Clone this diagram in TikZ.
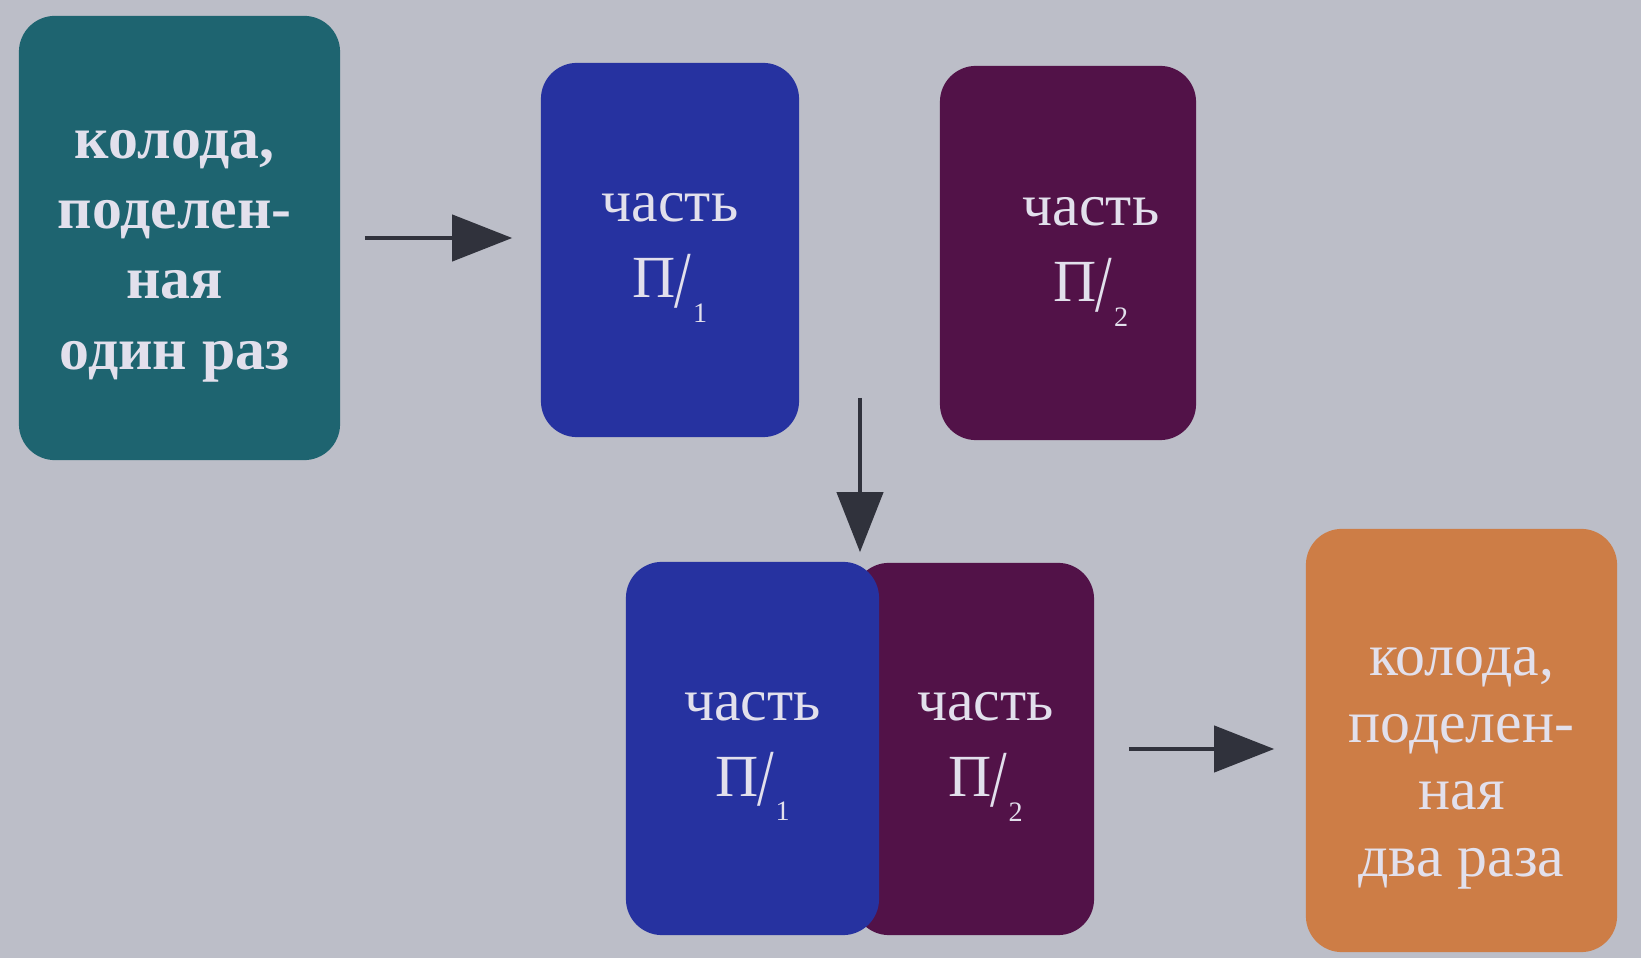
\documentclass[tikz,border=0pt]{standalone}
\usepackage{fontspec}
\setmainfont{Liberation Serif}
\usepackage{graphicx}
\usepackage{xcolor}
\usetikzlibrary{arrows.meta,positioning,calc}
\definecolor{bggray}{RGB}{188,190,200}
\definecolor{deckteal}{RGB}{30,100,112}
\definecolor{partblue}{RGB}{38,50,160}
\definecolor{partplum}{RGB}{82,18,72}
\definecolor{deckorange}{RGB}{205,125,70}
\definecolor{arrowgray}{RGB}{48,50,60}
\definecolor{cardtext}{RGB}{226,224,236}
\newcommand{\partlabel}[1]{часть\\\mbox{П\kern-.02em\raisebox{-.35ex}{\scalebox{1}[1.35]{/}}\kern.03em\raisebox{-.9ex}{\footnotesize #1}}}

\begin{document}
\begin{tikzpicture}[x = 0.01cm, y = -0.01cm,
    card/.style = {rounded corners = .36cm, inner sep = 0pt},
    cardlbl/.style = {inner sep = 0pt, align = center, text = cardtext,
      font = \fontsize{17}{21.5}\selectfont},
    arr/.style = {-{Triangle[length = .6cm, width = .46cm]}, line width = 1.2pt, draw = arrowgray}]
    \fill[bggray] (0,0) rectangle (1641,958);
    \useasboundingbox (0,0) rectangle (1641,958);
    % cards
    \node[card, fill = deckteal, minimum width = 3.21cm, minimum height = 4.44cm] (deck) at (179.5,238) {};
    \node[card, fill = partblue, minimum width = 2.58cm, minimum height = 3.74cm] (half1) at (670,250) {};
    \node[card, fill = partplum, minimum width = 2.56cm, minimum height = 3.74cm] (half2) at (1068,253) {};
    \node[card, fill = partplum, minimum width = 2.41cm, minimum height = 3.72cm] (mhalf2) at (973.5,749) {};
    \node[card, fill = partblue, minimum width = 2.53cm, minimum height = 3.73cm] (mhalf1) at (752.5,748.5) {};
    \node[card, fill = deckorange, minimum width = 3.11cm, minimum height = 4.23cm] (deck2) at (1461.5,740.5) {};
    % texts
    \node[cardlbl, font = \bfseries\fontsize{17}{20}\selectfont] (deck-t) at ($(deck)+(-5,18)$) {колода,\\поделен-\\ная\\один раз};
    \node[cardlbl] (half1-t) at ($(half1)+(0,8)$) {\partlabel{1}};
    \node[cardlbl] (half2-t) at ($(half2)+(23,9)$) {\partlabel{2}};
    \node[cardlbl] (mhalf1-t) at ($(mhalf1)+(0,8)$) {\partlabel{1}};
    \node[cardlbl] (mhalf2-t) at ($(mhalf2)+(12,8)$) {\partlabel{2}};
    \node[cardlbl, font = \fontsize{17}{19}\selectfont] (deck2-t) at ($(deck2)+(0,28)$) {колода,\\поделен-\\ная\\два раза};
    % arrows
    \coordinate (split) at (860,398);
    \draw[arr, shorten <= .24cm, shorten >= .28cm] (deck.east) -- (deck.east -| half1.west);
    \draw[arr, shorten >= .09cm] (split) -- (split |- mhalf1.north);
    \draw[arr, shorten <= .34cm, shorten >= .31cm] (mhalf2.east) -- (mhalf2.east -| deck2.west);
\end{tikzpicture}
\end{document}
